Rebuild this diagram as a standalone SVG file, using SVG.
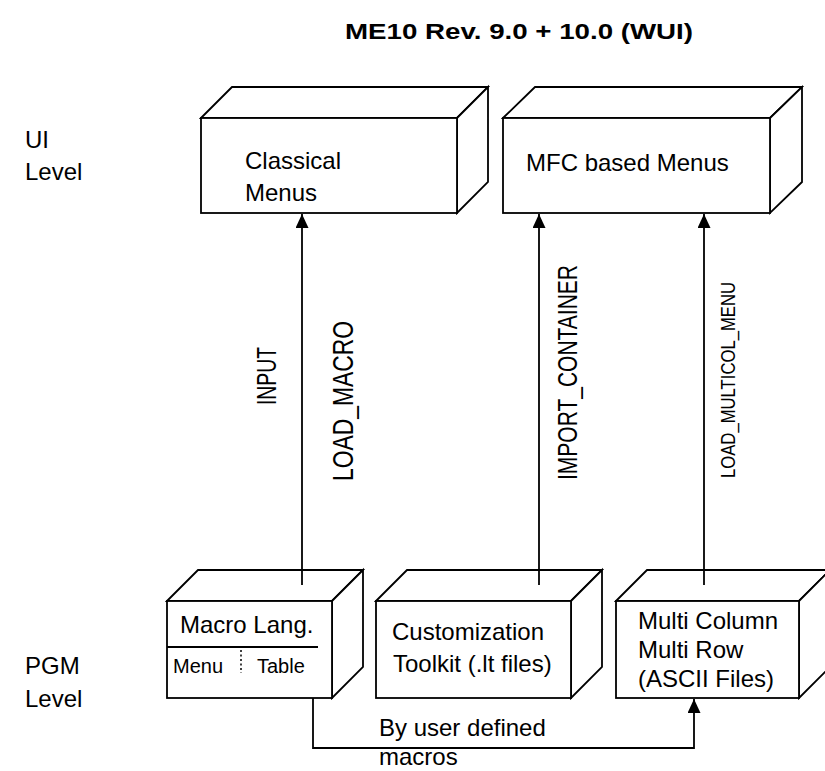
<svg xmlns="http://www.w3.org/2000/svg" width="825" height="771" viewBox="0 0 825 771">
<style>
.box{fill:#fff;stroke:#000;stroke-width:1.8;stroke-linejoin:miter}
.ln{fill:none;stroke:#000;stroke-width:1.8}
text{font-family:"Liberation Sans",Arial,sans-serif;fill:#000}
.t{font-size:24px}
.s{font-size:20px}
.title{font-size:22px;font-weight:bold}
</style>
<defs>
<marker id="ah" markerUnits="userSpaceOnUse" viewBox="0 0 14 13" markerWidth="14" markerHeight="13" refX="14" refY="6.5" orient="auto">
<path d="M0,0 L14,6.5 L0,13 z" fill="#000"/>
</marker>
</defs>
<rect width="825" height="771" fill="#fff"/>
<text class="title" x="345" y="39" textLength="348" lengthAdjust="spacingAndGlyphs">ME10 Rev. 9.0 + 10.0 (WUI)</text>
<g id="labels">
<text class="t" x="25" y="148">UI</text>
<text class="t" x="25" y="180">Level</text>
<text class="t" x="25" y="674">PGM</text>
<text class="t" x="25" y="707">Level</text>
</g>
<g id="classical">
<polygon class="box" points="201,118 232,87 488,87 457,118"/>
<polygon class="box" points="457,118 488,87 488,182 457,213"/>
<rect class="box" x="201" y="118" width="256" height="95"/>
<text class="t" x="245" y="169">Classical</text>
<text class="t" x="245" y="201">Menus</text>
</g>
<g id="mfc">
<polygon class="box" points="503,118 535,87 802,87 770,118"/>
<polygon class="box" points="770,118 802,87 802,182 770,213"/>
<rect class="box" x="503" y="118" width="267" height="95"/>
<text class="t" x="526" y="171">MFC based Menus</text>
</g>
<g id="macro">
<polygon class="box" points="167,601 198,570 363,570 332,601"/>
<polygon class="box" points="332,601 363,570 363,667 332,698"/>
<rect class="box" x="167" y="601" width="165" height="97"/>
<text class="t" x="180" y="633">Macro Lang.</text>
<line class="ln" x1="167" y1="647" x2="318" y2="647"/>
<line x1="241" y1="650" x2="241" y2="673" stroke="#000" stroke-width="1.5" stroke-dasharray="2,2.5"/>
<text class="s" x="173" y="673">Menu</text>
<text class="s" x="257" y="673">Table</text>
</g>
<g id="toolkit">
<polygon class="box" points="376,601 407,570 602,570 571,601"/>
<polygon class="box" points="571,601 602,570 602,667 571,698"/>
<rect class="box" x="376" y="601" width="195" height="97"/>
<text class="t" x="392" y="640">Customization</text>
<text class="t" x="393" y="672">Toolkit (.lt files)</text>
</g>
<g id="multi">
<polygon class="box" points="616,601 647,570 830,570 799,601"/>
<polygon class="box" points="799,601 830,570 830,667 799,698"/>
<rect class="box" x="616" y="601" width="183" height="97"/>
<text class="t" x="638" y="629">Multi Column</text>
<text class="t" x="638" y="658">Multi Row</text>
<text class="t" x="638" y="687">(ASCII Files)</text>
</g>
<g id="connectors">
<line class="ln" x1="302" y1="585" x2="302" y2="214" marker-end="url(#ah)"/>
<line class="ln" x1="539" y1="585" x2="539" y2="214" marker-end="url(#ah)"/>
<line class="ln" x1="704" y1="585" x2="704" y2="214" marker-end="url(#ah)"/>
<polyline class="ln" points="313,698 313,748 694,748 694,699" marker-end="url(#ah)"/>
<text class="s" transform="translate(276,405) rotate(-90) scale(1,1.4)" textLength="58" lengthAdjust="spacingAndGlyphs">INPUT</text>
<text class="t" transform="translate(353,481) rotate(-90) scale(1,1.25)" textLength="160" lengthAdjust="spacingAndGlyphs">LOAD_MACRO</text>
<text class="s" transform="translate(577,480) rotate(-90) scale(1,1.37)" textLength="215" lengthAdjust="spacingAndGlyphs">IMPORT_CONTAINER</text>
<text transform="translate(735,478) rotate(-90) scale(1,1.26)" font-size="16.6" textLength="196" lengthAdjust="spacingAndGlyphs">LOAD_MULTICOL_MENU</text>
<text class="t" x="379" y="736">By user defined</text>
<text class="t" x="379" y="765">macros</text>
</g>
</svg>
